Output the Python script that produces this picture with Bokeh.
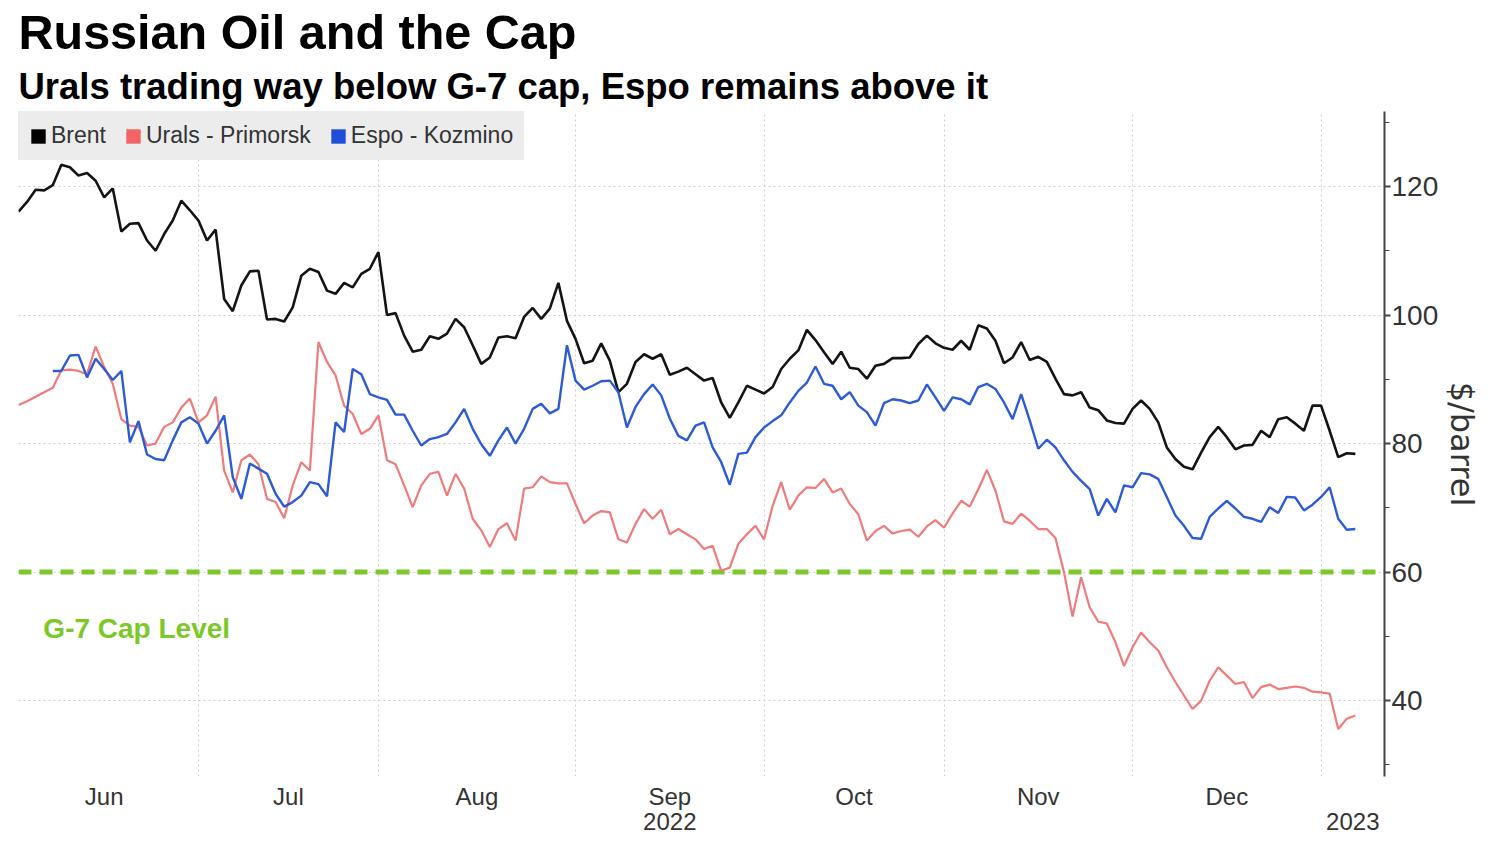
from bokeh.plotting import figure
from bokeh.models import (Range1d, LinearAxis, FixedTicker, SingleIntervalTicker, Span, Label,
                          Title, Legend, LegendItem, ColumnDataSource)
from bokeh.embed import file_html
from bokeh.resources import INLINE

# ---- data: daily values on a trading-day index (0 = 2 Jun 2022) ----
brent = [116.1, 117.6, 119.5, 119.4, 120.2, 123.4, 123.0, 121.7, 122.1, 120.9,
         118.3, 119.7, 113.0, 114.2, 114.3, 111.6, 110.0, 112.6, 114.7, 117.8,
         116.3, 114.7, 111.6, 113.3, 102.5, 100.6, 104.6, 106.8, 106.9, 99.3,
         99.4, 99.0, 101.2, 106.1, 107.2, 106.7, 103.8, 103.3, 105.0, 104.3,
         106.4, 107.2, 109.8, 100.0, 100.3, 96.8, 94.3, 94.6, 96.7, 96.3,
         97.1, 99.4, 98.1, 95.3, 92.4, 93.4, 96.5, 96.7, 96.4, 99.7,
         101.1, 99.4, 101.0, 105.0, 99.1, 96.3, 92.5, 92.9, 95.6, 92.9,
         88.0, 89.3, 92.7, 93.9, 93.2, 93.9, 90.7, 91.2, 91.8, 90.8,
         89.8, 90.2, 86.4, 84.0, 86.4, 89.0, 88.4, 87.8, 88.8, 91.6,
         93.2, 94.5, 97.7, 96.1, 94.2, 92.4, 94.3, 91.8, 91.6, 90.1,
         92.1, 92.4, 93.3, 93.3, 93.4, 95.5, 96.8, 95.6, 94.9, 94.6,
         96.0, 94.6, 98.4, 97.9, 96.0, 92.5, 93.4, 95.8, 93.0, 93.5,
         92.7, 90.1, 87.7, 87.5, 88.0, 85.6, 85.2, 83.6, 83.2, 83.1,
         85.4, 86.7, 85.4, 83.3, 79.4, 77.6, 76.4, 76.0, 78.6, 81.0,
         82.6, 81.0, 79.1, 79.7, 79.8, 82.0, 81.0, 83.8, 84.1, 83.1,
         82.0, 85.9, 85.9, 82.0, 77.9, 78.5, 78.4]

urals = [86.0, 86.6, 87.3, 88.0, 88.7, 91.4, 91.5, 91.3, 90.8, 95.1,
         91.9, 89.3, 83.8, 82.8, 82.6, 79.7, 80.0, 82.6, 83.3, 85.6,
         87.0, 83.3, 84.4, 87.3, 75.8, 72.4, 77.4, 78.3, 76.8, 71.4,
         70.9, 68.4, 73.5, 77.1, 75.8, 95.8, 92.7, 90.6, 85.9, 84.6,
         81.5, 82.3, 84.4, 77.4, 76.8, 73.5, 70.1, 73.5, 75.3, 75.6,
         71.9, 75.3, 73.0, 68.3, 66.5, 63.9, 66.7, 67.6, 64.9, 73.0,
         73.2, 74.9, 74.0, 73.8, 73.8, 70.6, 67.6, 68.8, 69.5, 69.3,
         65.1, 64.6, 67.5, 69.8, 68.3, 69.7, 65.9, 66.7, 65.9, 65.1,
         63.6, 64.1, 60.2, 60.7, 64.4, 65.9, 67.2, 65.1, 70.3, 74.0,
         69.7, 71.9, 73.2, 73.1, 74.5, 72.4, 73.0, 70.6, 69.0, 64.9,
         66.4, 67.2, 66.0, 66.4, 66.6, 65.5, 67.1, 68.1, 66.9, 69.1,
         71.1, 70.2, 72.9, 75.9, 72.7, 67.9, 67.5, 69.1, 68.0, 66.7,
         66.7, 65.3, 60.0, 53.1, 59.2, 54.5, 52.3, 52.0, 49.1, 45.4,
         48.3, 50.6, 49.1, 47.8, 45.2, 42.9, 40.8, 38.7, 40.0, 43.1,
         45.2, 43.9, 42.6, 42.9, 40.4, 42.1, 42.5, 41.8, 42.0, 42.2,
         42.0, 41.4, 41.3, 41.1, 35.6, 37.2, 37.7]

espo_start = 4
espo = [91.3, 91.3, 93.7, 93.8, 90.3, 93.2, 91.6, 89.9, 91.3, 80.2,
        83.5, 78.3, 77.6, 77.4, 80.5, 83.3, 84.1, 83.1, 80.0, 82.0,
        84.4, 74.8, 71.4, 76.9, 76.1, 75.3, 72.2, 70.2, 70.9, 71.9,
        74.0, 73.7, 71.8, 83.3, 81.8, 91.6, 90.8, 87.7, 87.2, 86.8,
        84.5, 84.5, 82.0, 79.7, 80.7, 81.0, 81.5, 83.3, 85.4, 82.3,
        79.9, 78.1, 80.5, 82.5, 80.0, 82.3, 85.4, 86.2, 84.7, 85.4,
        95.3, 89.8, 88.4, 89.0, 89.7, 89.8, 88.0, 82.5, 85.7, 87.7,
        89.2, 87.5, 83.9, 81.2, 80.5, 82.8, 83.3, 79.4, 77.1, 73.6,
        78.4, 78.6, 81.0, 82.5, 83.5, 84.4, 86.4, 88.2, 89.5, 92.0,
        89.3, 89.0, 86.9, 88.0, 85.9, 84.9, 82.8, 86.3, 86.9, 86.7,
        86.3, 86.7, 89.2, 87.2, 85.1, 87.2, 86.9, 86.1, 88.8, 89.3,
        88.5, 86.4, 83.8, 87.7, 83.6, 79.2, 80.6, 79.4, 77.4, 75.6,
        74.2, 72.9, 68.8, 71.4, 69.3, 73.5, 73.2, 75.4, 75.2, 74.5,
        71.7, 68.8, 67.2, 65.3, 65.2, 68.6, 69.9, 71.1, 69.9, 68.6,
        68.3, 67.8, 70.1, 69.2, 71.7, 71.6, 69.6, 70.5, 71.7, 73.2,
        68.3, 66.6, 66.7]

cap_level = 60
series_names = ["Brent", "Urals - Primorsk", "Espo - Kozmino"]
month_names = ["Jun", "Jul", "Aug", "Sep", "Oct", "Nov", "Dec"]
# trading-day index of the first session of each month (Jun .. Jan)
month_starts = [-1, 21, 42, 65, 87, 108, 130, 152]
year_labels = ["2022", "2023"]

# ---- derived ----
x_brent = list(range(len(brent)))
x_urals = list(range(len(urals)))
x_espo = list(range(espo_start, espo_start + len(espo)))

X_END = 159.4
month_mids = [(month_starts[i] + month_starts[i + 1]) / 2 for i in range(len(month_names))]
year_pos = [month_mids[3], (month_starts[-1] + X_END) / 2]

FONT = "Liberation Sans"
GREEN = "#7cc82a"
C_BRENT, C_URALS, C_ESPO = "#141414", "#ef7b7b", "#2d5bd6"
SWATCH = ["#000000", "#f26363", "#1f4fd6"]

p = figure(width=1484, height=834, output_backend="svg", toolbar_location=None,
           x_range=Range1d(0, X_END), y_range=Range1d(28.2, 131.67),
           y_axis_location="right", title=None,
           min_border_left=18, min_border_right=0, min_border_top=111, min_border_bottom=58)
p.outline_line_color = None
p.background_fill_color = "white"
p.border_fill_color = "white"

# titles (subtitle first = closer to plot)
p.add_layout(Title(text="Urals trading way below G-7 cap, Espo remains above it",
                   text_font=FONT, text_font_style="bold", text_font_size="36.5px",
                   text_color="#000000", align="left", offset=0, standoff=10), "above")
p.add_layout(Title(text="Russian Oil and the Cap",
                   text_font=FONT, text_font_style="bold", text_font_size="48.5px",
                   text_color="#000000", align="left", offset=0, standoff=0), "above")

# grids
p.xgrid.ticker = FixedTicker(ticks=month_starts[1:])
p.xgrid.grid_line_color = "#cfcfcf"
p.xgrid.grid_line_dash = "2 3"
yticker = SingleIntervalTicker(interval=20, num_minor_ticks=2)
p.ygrid.ticker = yticker
p.ygrid.grid_line_color = "#cfcfcf"
p.ygrid.grid_line_dash = "2 3"

# y axis (right)
ya = p.yaxis[0]
ya.ticker = yticker
ya.axis_line_color = "#444444"
ya.axis_line_width = 2
ya.major_tick_line_color = "#444444"
ya.major_tick_line_width = 2
ya.major_tick_out = 6
ya.major_tick_in = 0
ya.minor_tick_line_color = "#444444"
ya.minor_tick_out = 5
ya.minor_tick_in = 0
ya.major_label_standoff = 1
ya.major_label_text_font = FONT
ya.major_label_text_font_size = "28px"
ya.major_label_text_color = "#333333"
ya.axis_label = "$/barrel"
ya.axis_label_text_font = "DejaVu Sans"
ya.axis_label_text_font_style = "normal"
ya.axis_label_text_font_size = "32px"
ya.axis_label_text_color = "#333333"
ya.axis_label_standoff = 2

# x axis: months
xa = p.xaxis[0]
xa.ticker = FixedTicker(ticks=month_mids)
xa.major_label_overrides = {m: n for m, n in zip(month_mids, month_names)}
xa.axis_line_color = None
xa.major_tick_line_color = None
xa.minor_tick_line_color = None
xa.major_tick_out = 0
xa.major_tick_in = 0
xa.major_label_standoff = 6
xa.major_label_text_font = FONT
xa.major_label_text_font_size = "24px"
xa.major_label_text_color = "#333333"

# x axis: years
yr = LinearAxis(ticker=FixedTicker(ticks=year_pos),
                major_label_overrides={v: t for v, t in zip(year_pos, year_labels)},
                axis_line_color=None, major_tick_line_color=None, minor_tick_line_color=None,
                major_tick_out=0, major_tick_in=0,
                major_label_standoff=0, major_label_text_font=FONT,
                major_label_text_font_size="24px", major_label_text_color="#333333")
p.add_layout(yr, "below")

# G-7 cap line
p.add_layout(Span(location=cap_level, dimension="width", line_color=GREEN,
                  line_width=5, line_dash="13 8", level="underlay"))
p.add_layout(Label(x=2.9, y=51.2, text="G-7 Cap Level", text_font=FONT,
                   text_font_style="bold", text_font_size="28px", text_color=GREEN,
                   text_baseline="middle"))

# series
p.line(x_brent, brent, line_color=C_BRENT, line_width=2.6)
p.line(x_urals, urals, line_color=C_URALS, line_width=2.2)
p.line(x_espo, espo, line_color=C_ESPO, line_width=2.4)

# legend swatches: one off-range square per series (only its legend glyph is seen)
sw = []
for c in SWATCH:
    src = ColumnDataSource(dict(l=[-20], r=[-19], t=[1], b=[0]))
    sw.append(p.quad(left="l", right="r", top="t", bottom="b", source=src,
                     fill_color=c, line_color=None))
legend = Legend(items=[LegendItem(label=n, renderers=[r]) for n, r in zip(series_names, sw)],
                location="top_left", orientation="horizontal", margin=0, padding=10,
                spacing=18, label_standoff=4, glyph_width=18, glyph_height=18,
                label_height=26, label_text_font=FONT, label_text_font_size="23px",
                label_text_color="#333333", background_fill_color="#ececec",
                background_fill_alpha=1.0, border_line_color="#ececec", border_line_width=1)
p.add_layout(legend)

open("out.html", "w").write(file_html(p, INLINE))
